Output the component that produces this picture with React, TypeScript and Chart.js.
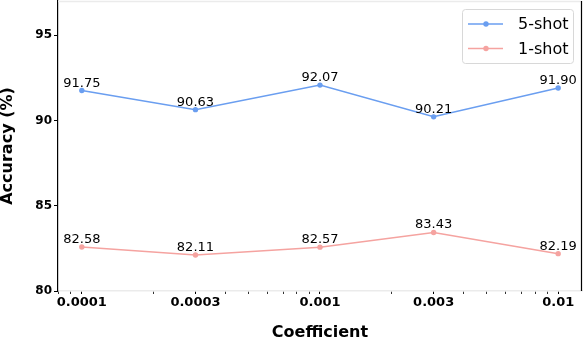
import React, { useEffect, useRef } from "react";
import { Chart, registerables } from "chart.js";

Chart.register(...registerables);

const coefficients = [0.0001, 0.0003, 0.001, 0.003, 0.01];
const coefficientLabels = ["0.0001", "0.0003", "0.001", "0.003", "0.01"];
const fiveShot = [91.75, 90.63, 92.07, 90.21, 91.9];
const oneShot = [82.58, 82.11, 82.57, 83.43, 82.19];
const yTicks = [80, 85, 90, 95];
const seriesNames = ["5-shot", "1-shot"];

const FONT = "'DejaVu Sans', sans-serif";
const BLUE = "#6A9EF0";
const PINK = "#F5A3A0";

function minorLogTicks(min: number, max: number): number[] {
  const out: number[] = [];
  for (let e = Math.floor(Math.log10(min)); e <= Math.ceil(Math.log10(max)); e++) {
    for (let m = 1; m <= 9; m++) {
      const v = m * Math.pow(10, e);
      if (v >= min && v <= max) out.push(v);
    }
  }
  return out;
}

const isMajor = (v: number) => coefficients.some((c) => Math.abs(Math.log10(c) - Math.log10(v)) < 1e-6);

const framePlugin = {
  id: "frame",
  afterDraw(chart: any) {
    const { ctx, chartArea } = chart;
    const { left, right, top, bottom } = chartArea;
    ctx.save();
    ctx.strokeStyle = "#ebebeb";
    ctx.lineWidth = 1.5;
    ctx.beginPath();
    ctx.moveTo(left, top + 0.5);
    ctx.lineTo(right, top + 0.5);
    ctx.stroke();
    ctx.strokeStyle = "#000";
    ctx.lineWidth = 1.2;
    ctx.beginPath();
    ctx.moveTo(right - 0.5, top);
    ctx.lineTo(right - 0.5, bottom);
    ctx.stroke();
    ctx.restore();
  },
};

const valueLabelPlugin = {
  id: "valueLabels",
  afterDatasetsDraw(chart: any) {
    const { ctx } = chart;
    ctx.save();
    ctx.font = `13px ${FONT}`;
    ctx.fillStyle = "#000";
    ctx.textAlign = "center";
    ctx.textBaseline = "alphabetic";
    chart.data.datasets.forEach((ds: any, i: number) => {
      const meta = chart.getDatasetMeta(i);
      meta.data.forEach((pt: any, j: number) => {
        ctx.fillText(ds.data[j].y.toFixed(2), pt.x, pt.y - 4);
      });
    });
    ctx.restore();
  },
};

const legendPlugin = {
  id: "customLegend",
  afterDraw(chart: any) {
    const { ctx, chartArea } = chart;
    const w = 111;
    const h = 54;
    const x = chartArea.right - 9 - w;
    const y = chartArea.top + 8;
    ctx.save();
    ctx.fillStyle = "rgba(255,255,255,0.85)";
    ctx.strokeStyle = "#d8d8d8";
    ctx.lineWidth = 1;
    ctx.beginPath();
    (ctx as any).roundRect(x + 0.5, y + 0.5, w, h, 3);
    ctx.fill();
    ctx.stroke();
    ctx.font = `16px ${FONT}`;
    ctx.textBaseline = "middle";
    ctx.textAlign = "left";
    chart.data.datasets.forEach((ds: any, i: number) => {
      const ry = y + 15 + i * 24.5;
      ctx.strokeStyle = ds.borderColor;
      ctx.lineWidth = 1.5;
      ctx.beginPath();
      ctx.moveTo(x + 6, ry);
      ctx.lineTo(x + 41, ry);
      ctx.stroke();
      ctx.fillStyle = ds.borderColor;
      ctx.beginPath();
      ctx.arc(x + 24, ry, 2.7, 0, Math.PI * 2);
      ctx.fill();
      ctx.fillStyle = "#000";
      ctx.fillText(ds.label, x + 56, ry + 1);
    });
    ctx.restore();
  },
};

export default function App() {
  const ref = useRef<HTMLCanvasElement>(null);
  useEffect(() => {
    if (!ref.current) return;
    const xMin = Math.pow(10, -4.1);
    const xMax = Math.pow(10, -1.9);
    const chart = new Chart(ref.current, {
      type: "line",
      data: {
        datasets: [
          {
            label: seriesNames[0],
            data: coefficients.map((c, i) => ({ x: c, y: fiveShot[i] })),
            borderColor: BLUE,
            backgroundColor: BLUE,
            borderWidth: 1.5,
            pointRadius: 2.7,
            pointBorderWidth: 0,
          },
          {
            label: seriesNames[1],
            data: coefficients.map((c, i) => ({ x: c, y: oneShot[i] })),
            borderColor: PINK,
            backgroundColor: PINK,
            borderWidth: 1.5,
            pointRadius: 2.7,
            pointBorderWidth: 0,
          },
        ],
      },
      options: {
        responsive: false,
        animation: false,
        devicePixelRatio: 1,
        layout: { autoPadding: false, padding: { top: 1, right: 2, left: 0, bottom: 0 } },
        plugins: { legend: { display: false }, tooltip: { enabled: false } },
        scales: {
          x: {
            type: "logarithmic",
            min: xMin,
            max: xMax,
            bounds: "data",
            afterBuildTicks: (scale: any) => {
              scale.ticks = minorLogTicks(xMin, xMax).map((v) => ({ value: v }));
            },
            afterFit: (scale: any) => {
              scale.height = 47;
              scale.paddingLeft = 0;
              scale.paddingRight = 0;
            },
            ticks: {
              autoSkip: false,
              maxRotation: 0,
              padding: 1,
              color: "#000",
              font: { family: FONT, size: 13, weight: "bold" },
              callback: (v: any) => {
                const idx = coefficients.findIndex((c) => Math.abs(Math.log10(c) - Math.log10(v)) < 1e-6);
                return idx >= 0 ? coefficientLabels[idx] : "";
              },
            },
            grid: {
              drawOnChartArea: false,
              drawTicks: true,
              tickLength: 3,
              tickColor: "#000",
              tickWidth: (c: any) => (c.tick && isMajor(c.tick.value) ? 1 : 0.8),
            },
            border: { color: "#ebebeb", width: 1.5 },
            title: {
              display: true,
              text: "Coefficient",
              color: "#000",
              font: { family: FONT, size: 16, weight: "bold" },
              padding: { top: 13, bottom: -4 },
            },
          },
          y: {
            type: "linear",
            min: 80,
            max: 97,
            afterBuildTicks: (scale: any) => {
              scale.ticks = yTicks.map((v) => ({ value: v }));
            },
            afterFit: (scale: any) => {
              scale.width = 58;
              scale.paddingTop = 0;
              scale.paddingBottom = 0;
            },
            ticks: {
              padding: 2,
              color: "#000",
              font: { family: FONT, size: 12, weight: "bold" },
            },
            grid: {
              drawOnChartArea: false,
              drawTicks: true,
              tickLength: 4,
              tickColor: "#000",
            },
            border: { color: "#000", width: 1.2 },
            title: {
              display: true,
              text: "Accuracy (%)",
              color: "#000",
              font: { family: FONT, size: 16, weight: "bold" },
              padding: { top: -2, bottom: 0 },
            },
          },
        },
      },
      plugins: [framePlugin, valueLabelPlugin, legendPlugin],
    } as any);
    return () => chart.destroy();
  }, []);
  return (
    <div style={{ position: "absolute", left: 0, top: 0, width: 584, height: 338, background: "#fff" }}>
      <canvas ref={ref} width={584} height={338} />
    </div>
  );
}
